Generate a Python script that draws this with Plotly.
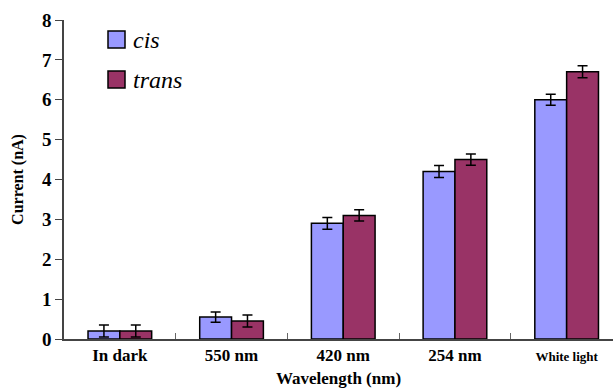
import plotly.graph_objects as go

categories = ["In dark", "550 nm", "420 nm", "254 nm", "White light"]
tick_labels = ["In dark", "550 nm", "420 nm", "254 nm",
               "<span style='font-size:13px'>White light</span>"]
cis_values = [0.2, 0.55, 2.9, 4.2, 6.0]
cis_errors = [0.15, 0.13, 0.15, 0.15, 0.14]
trans_values = [0.2, 0.45, 3.1, 4.5, 6.7]
trans_errors = [0.15, 0.15, 0.14, 0.14, 0.15]
y_ticks = [0, 1, 2, 3, 4, 5, 6, 7, 8]

FONT = "Liberation Serif"
CIS_COLOR = "#9999FF"
TRANS_COLOR = "#993366"

fig = go.Figure()
for name, vals, errs, col in [("cis", cis_values, cis_errors, CIS_COLOR),
                              ("trans", trans_values, trans_errors, TRANS_COLOR)]:
    fig.add_trace(go.Bar(
        x=categories, y=vals, name=name,
        marker=dict(color=col, line=dict(color="black", width=1.5)),
        error_y=dict(type="data", array=errs, visible=True,
                     color="black", thickness=1.5, width=5),
        showlegend=False,
    ))

# legend drawn as swatches + italic labels
for i, (name, col) in enumerate([("cis", CIS_COLOR), ("trans", TRANS_COLOR)]):
    y0 = 48 + i * 40
    fig.add_shape(type="rect", xref="paper", yref="paper",
                  x0=(108 - 64) / 549, x1=(125 - 64) / 549,
                  y0=(339 - y0) / 319, y1=(339 - y0 + 17) / 319,
                  line=dict(color="black", width=1.5), fillcolor=col)
    fig.add_annotation(xref="paper", yref="paper",
                       x=(131 - 64) / 549, y=(339 - y0 + 8) / 319,
                       text=f"<i>{name}</i>", showarrow=False,
                       xanchor="left", yanchor="middle",
                       font=dict(family="Liberation Serif, Times New Roman, serif",
                                 size=24, color="black"))

fig.update_layout(
    width=613, height=388,
    margin=dict(l=64, r=0, t=20, b=49),
    plot_bgcolor="white", paper_bgcolor="white",
    barmode="group", bargap=0.43, bargroupgap=0,
    font=dict(family=FONT, color="black"),
    xaxis=dict(
        tickvals=categories, ticktext=tick_labels,
        range=[-0.5, 4.415], automargin=False,
        showline=True, linecolor="#444", linewidth=1.5,
        ticks="inside", tickson="boundaries", ticklen=6, tickcolor="#666",
        tickfont=dict(family=FONT, size=17, color="black", weight="bold"),
        title=dict(text="<b>Wavelength (nm)</b>", standoff=10,
                   font=dict(family=FONT, size=17, color="black")),
        showgrid=False, zeroline=False,
    ),
    yaxis=dict(
        range=[0, 8], tickvals=y_ticks, automargin=False,
        showline=True, linecolor="#444", linewidth=1.5,
        ticks="outside", ticklen=7, tickcolor="#444",
        tickfont=dict(family=FONT, size=19, color="black", weight="bold"),
        title=dict(text="<b>Current (nA)</b>", standoff=14,
                   font=dict(family=FONT, size=16, color="black")),
        showgrid=False, zeroline=False,
    ),
)

fig.write_html("out.html", config={"displayModeBar": False},
               post_script="document.body.style.margin='0';")
